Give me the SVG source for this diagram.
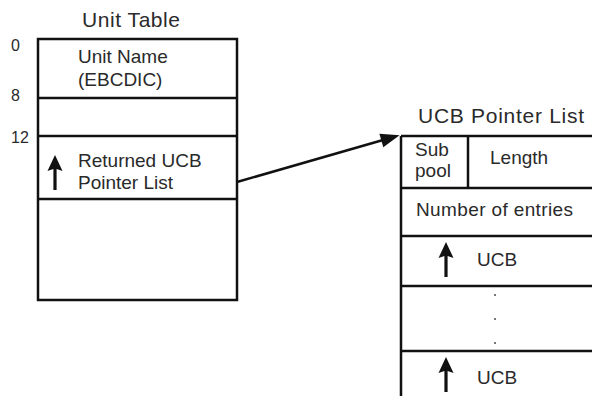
<svg xmlns="http://www.w3.org/2000/svg" width="592" height="396" viewBox="0 0 592 396">
<style>
  .box { fill: #fff; stroke: #111; stroke-width: 2.5; }
  .ln { stroke: #111; stroke-width: 2.5; fill: none; }
  .t { font-family: "Liberation Sans", Arial, sans-serif; font-size: 19px; fill: #2a2a2a; }
  .title { font-family: "Liberation Sans", Arial, sans-serif; font-size: 21px; fill: #2a2a2a; }
  .off { font-family: "Liberation Sans", Arial, sans-serif; font-size: 16px; fill: #2a2a2a; }
  .dot { fill: #777; }
</style>
<defs>
  <path id="uparrow" d="M0,0 L7.5,16 L1.6,14 L1.6,35 L-1.6,35 L-1.6,14 L-7.5,16 Z" fill="#111"/>
  <marker id="head" markerUnits="userSpaceOnUse" viewBox="-10 -8 22 16" markerWidth="22" markerHeight="16" refX="0" refY="0" orient="auto">
    <path d="M10,0 L-9,-7 L-9,7 Z" fill="#111"/>
  </marker>
</defs>
<rect width="592" height="396" fill="#fff"/>

<g id="unit-table">
  <text class="title" x="82" y="27" textLength="98">Unit Table</text>
  <rect class="box" x="38" y="39" width="199" height="261"/>
  <line class="ln" x1="38" y1="98" x2="237" y2="98"/>
  <line class="ln" x1="38" y1="136" x2="237" y2="136"/>
  <line class="ln" x1="38" y1="199" x2="237" y2="199"/>
  <text class="t" x="78" y="63">Unit Name</text>
  <text class="t" x="78" y="86">(EBCDIC)</text>
  <use href="#uparrow" x="55" y="155"/>
  <text class="t" x="78" y="167">Returned UCB</text>
  <text class="t" x="78" y="189">Pointer List</text>
</g>

<g id="offsets">
  <text class="off" x="11" y="51">0</text>
  <text class="off" x="11" y="101">8</text>
  <text class="off" x="11" y="143">12</text>
</g>

<g id="ucb-pointer-list">
  <text class="title" x="418" y="123" textLength="166">UCB Pointer List</text>
  <line class="ln" x1="401" y1="136" x2="594" y2="136"/>
  <line class="ln" x1="401" y1="136" x2="401" y2="398"/>
  <line class="ln" x1="468" y1="136" x2="468" y2="188"/>
  <line class="ln" x1="401" y1="188" x2="594" y2="188"/>
  <line class="ln" x1="401" y1="236" x2="594" y2="236"/>
  <line class="ln" x1="401" y1="286" x2="594" y2="286"/>
  <line class="ln" x1="401" y1="351" x2="594" y2="351"/>
  <text class="t" x="415" y="156">Sub</text>
  <text class="t" x="415" y="177">pool</text>
  <text class="t" x="490" y="164">Length</text>
  <text class="t" x="416" y="216" textLength="157">Number of entries</text>
  <use href="#uparrow" x="446" y="242"/>
  <text class="t" x="477" y="266">UCB</text>
  <rect class="dot" x="494" y="294" width="2" height="2"/>
  <rect class="dot" x="494" y="318" width="2" height="2"/>
  <rect class="dot" x="494" y="342" width="2" height="2"/>
  <use href="#uparrow" x="446" y="357"/>
  <text class="t" x="477" y="384">UCB</text>
</g>

<g id="connectors">
  <line class="ln" x1="237" y1="182" x2="390" y2="138" marker-end="url(#head)"/>
</g>
</svg>
